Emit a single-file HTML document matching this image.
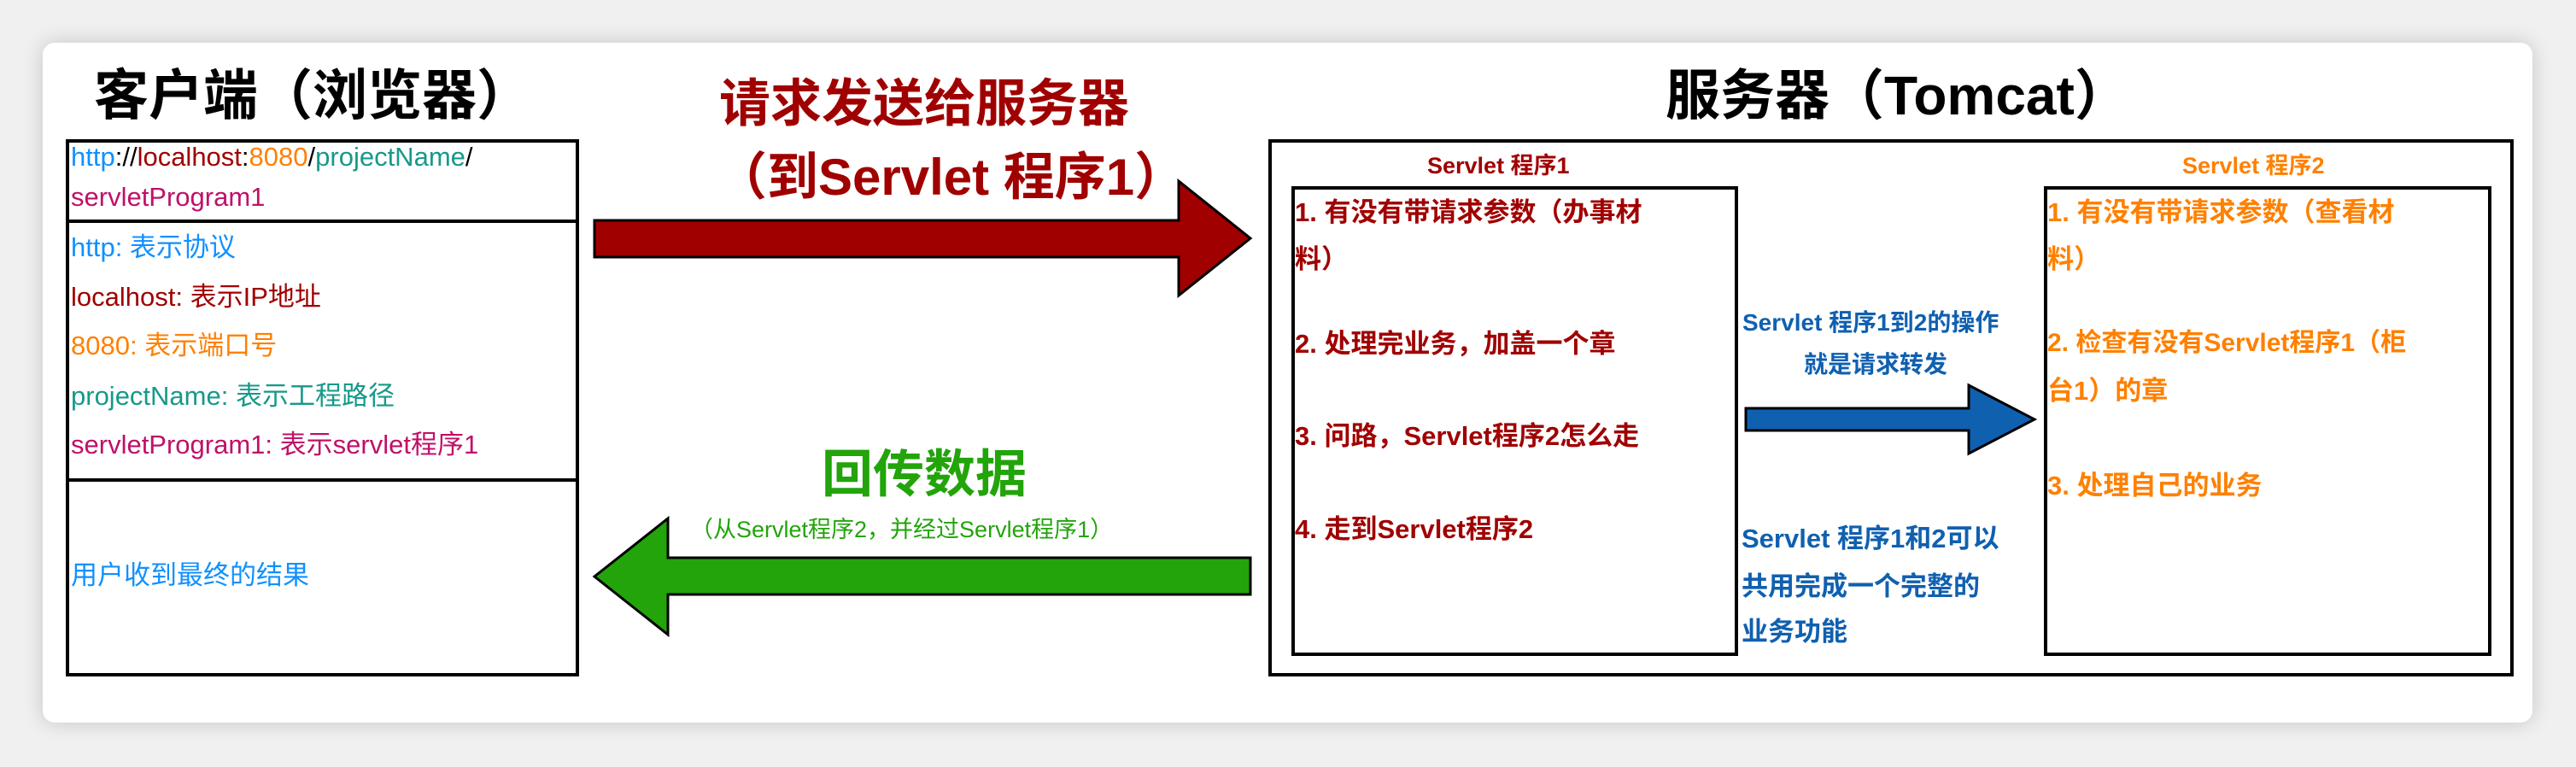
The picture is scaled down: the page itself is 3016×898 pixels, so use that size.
<!DOCTYPE html>
<html><head><meta charset="utf-8"><style>
*{margin:0;padding:0;box-sizing:border-box}
body{width:3016px;height:898px;background:#f0f0f0;position:relative;overflow:hidden;font-family:"Liberation Sans","Noto Sans CJK SC",sans-serif}
.card{position:absolute;left:50px;top:50px;width:2915px;height:796px;background:#fff;border-radius:14px;box-shadow:0 0 24px rgba(0,0,0,.18)}
.t{position:absolute;white-space:nowrap;line-height:1}
.box{position:absolute;border:4px solid #000}
.hl{position:absolute;height:4px;background:#000}
.s{font-weight:bold}
.b{color:#1090ff}.r{color:#a00000}.o{color:#ff8000}.g{color:#16998a}.m{color:#c01068}.bl{color:#1060b0}
</style></head><body>
<div class="card"></div>
<div class="t" style="left:110px;top:80px;font-size:64px;font-weight:bold;color:#000">客户端（浏览器）</div>
<div class="box" style="left:77px;top:163px;width:601px;height:629px"></div>
<div class="hl" style="left:77px;top:257px;width:601px"></div>
<div class="hl" style="left:77px;top:560px;width:601px"></div>
<div class="t" style="left:83px;top:168px;font-size:31px"><span class="b">http</span>://<span class="r">localhost</span>:<span class="o">8080</span>/<span class="g">projectName</span>/</div>
<div class="t m" style="left:83px;top:215px;font-size:31px">servletProgram1</div>
<div class="t b" style="left:83px;top:274px;font-size:31px">http: 表示协议</div>
<div class="t r" style="left:83px;top:332px;font-size:31px">localhost: 表示IP地址</div>
<div class="t o" style="left:83px;top:389px;font-size:31px">8080: 表示端口号</div>
<div class="t g" style="left:83px;top:448px;font-size:31px">projectName: 表示工程路径</div>
<div class="t m" style="left:83px;top:505px;font-size:31px">servletProgram1: 表示servlet程序1</div>
<div class="t b" style="left:83px;top:658px;font-size:31px">用户收到最终的结果</div>

<div class="t r" style="left:842px;top:92px;font-size:60px;font-weight:bold">请求发送给服务器</div>
<div class="t r" style="left:838px;top:178px;font-size:60px;font-weight:bold">（到Servlet 程序1）</div>
<div class="t" style="left:962px;top:526px;font-size:60px;font-weight:bold;color:#22a40a">回传数据</div>
<div class="t" style="left:808px;top:607px;font-size:27px;color:#22a40a">（从Servlet程序2，并经过Servlet程序1）</div>

<svg style="position:absolute;left:0;top:0" width="3016" height="898">
<polygon points="696,258 1380,258 1380,212 1464,279 1380,346 1380,301 696,301" fill="#a00000" stroke="#000" stroke-width="3"/>
<polygon points="1464,653 782,653 782,607 696,675 782,743 782,696 1464,696" fill="#22a40a" stroke="#000" stroke-width="3"/>
<polygon points="2044,478 2305,478 2305,451 2382,491 2305,531 2305,504 2044,504" fill="#1060b0" stroke="#000" stroke-width="3"/>
</svg>

<div class="t" style="left:1950px;top:80px;font-size:64px;font-weight:bold;color:#000">服务器（Tomcat）</div>
<div class="box" style="left:1485px;top:163px;width:1458px;height:629px"></div>
<div class="t r" style="left:1671px;top:181px;font-size:27px;font-weight:bold">Servlet 程序1</div>
<div class="t o" style="left:2555px;top:181px;font-size:27px;font-weight:bold">Servlet 程序2</div>
<div class="box" style="left:1512px;top:218px;width:523px;height:550px"></div>
<div class="box" style="left:2393px;top:218px;width:524px;height:550px"></div>
<div class="t r s" style="left:1516px;top:233px;font-size:31px">1. 有没有带请求参数（办事材</div>
<div class="t r s" style="left:1516px;top:288px;font-size:31px">料）</div>
<div class="t r s" style="left:1516px;top:387px;font-size:31px">2. 处理完业务，加盖一个章</div>
<div class="t r s" style="left:1516px;top:495px;font-size:31px">3. 问路，Servlet程序2怎么走</div>
<div class="t r s" style="left:1516px;top:604px;font-size:31px">4. 走到Servlet程序2</div>
<div class="t o s" style="left:2397px;top:233px;font-size:31px">1. 有没有带请求参数（查看材</div>
<div class="t o s" style="left:2397px;top:288px;font-size:31px">料）</div>
<div class="t o s" style="left:2397px;top:387px;font-size:30px">2. 检查有没有Servlet程序1（柜</div>
<div class="t o s" style="left:2397px;top:442px;font-size:31px">台1）的章</div>
<div class="t o s" style="left:2397px;top:553px;font-size:31px">3. 处理自己的业务</div>
<div class="t bl s" style="left:2040px;top:364px;font-size:28px">Servlet 程序1到2的操作</div>
<div class="t bl s" style="left:2112px;top:413px;font-size:28px">就是请求转发</div>
<div class="t bl s" style="left:2039px;top:615px;font-size:31px">Servlet 程序1和2可以</div>
<div class="t bl s" style="left:2039px;top:671px;font-size:31px">共用完成一个完整的</div>
<div class="t bl s" style="left:2039px;top:724px;font-size:31px">业务功能</div>
</body></html>
